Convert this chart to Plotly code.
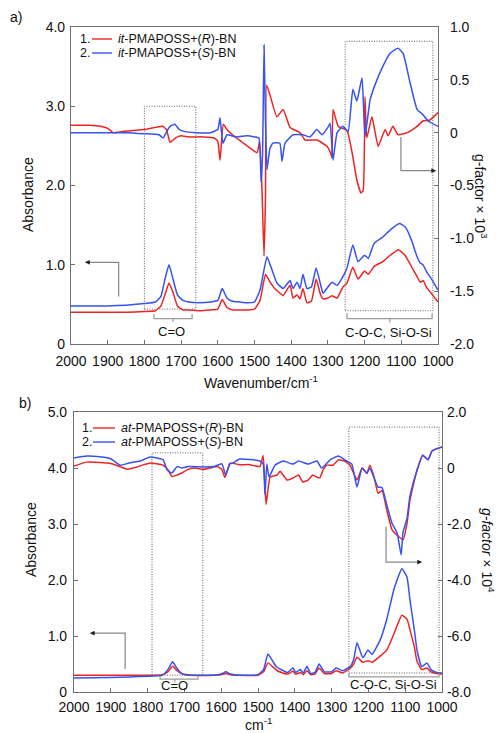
import plotly.graph_objects as go

W, H = 497, 733
FONT = "Liberation Sans, Arial, sans-serif"
RED = "#EE2424"
BLUE = "#3652F0"

# ---------------- panel a data ----------------
a_absR_wn = [2000, 1950, 1900, 1850, 1800, 1770, 1755, 1742, 1733, 1722, 1710, 1695, 1680, 1650, 1620, 1600, 1588, 1575, 1560, 1540, 1520, 1500, 1485, 1470, 1460, 1445, 1430, 1422, 1403, 1395, 1384, 1376, 1368, 1357, 1345, 1332, 1320, 1313, 1300, 1289, 1275, 1259, 1248, 1232, 1218, 1200, 1190, 1174, 1150, 1130, 1108, 1090, 1075, 1057, 1048, 1040, 1032, 1015, 1000]
a_absR = [0.40, 0.40, 0.40, 0.40, 0.41, 0.42, 0.48, 0.65, 0.77, 0.65, 0.48, 0.43, 0.43, 0.42, 0.43, 0.44, 0.56, 0.46, 0.43, 0.43, 0.43, 0.44, 0.55, 0.88, 0.80, 0.70, 0.64, 0.61, 0.74, 0.58, 0.62, 0.57, 0.70, 0.52, 0.54, 0.82, 0.62, 0.57, 0.58, 0.61, 0.58, 0.72, 0.77, 0.97, 0.82, 0.92, 0.88, 0.98, 1.04, 1.12, 1.19, 1.12, 1.00, 0.85, 0.78, 0.80, 0.72, 0.62, 0.53]

a_absS_wn = [2000, 1950, 1900, 1850, 1800, 1770, 1755, 1745, 1733, 1722, 1710, 1695, 1680, 1650, 1620, 1600, 1588, 1575, 1560, 1540, 1520, 1500, 1485, 1466, 1455, 1439, 1422, 1403, 1395, 1384, 1376, 1368, 1357, 1345, 1332, 1320, 1313, 1300, 1289, 1275, 1259, 1248, 1232, 1218, 1200, 1190, 1174, 1150, 1130, 1105, 1090, 1080, 1070, 1057, 1048, 1041, 1032, 1015, 1000]
a_absS = [0.48, 0.48, 0.48, 0.49, 0.51, 0.53, 0.60, 0.80, 1.00, 0.82, 0.62, 0.55, 0.53, 0.52, 0.53, 0.55, 0.70, 0.58, 0.54, 0.53, 0.52, 0.53, 0.68, 1.10, 0.97, 0.77, 0.70, 0.80, 0.70, 0.78, 0.70, 0.88, 0.70, 0.72, 0.96, 0.75, 0.64, 0.72, 0.78, 0.74, 0.85, 0.96, 1.25, 1.04, 1.12, 1.08, 1.27, 1.35, 1.44, 1.52, 1.48, 1.40, 1.28, 1.10, 1.02, 1.00, 0.92, 0.80, 0.68]

a_gR_wn = [2000, 1950, 1920, 1900, 1885, 1860, 1830, 1800, 1770, 1750, 1740, 1730, 1715, 1700, 1680, 1640, 1610, 1600, 1594, 1585, 1575, 1560, 1545, 1530, 1510, 1493, 1486, 1480, 1474, 1470, 1467, 1458, 1439, 1422, 1403, 1376, 1362, 1330, 1302, 1292, 1289, 1286, 1272, 1248, 1234, 1221, 1210, 1204, 1199, 1194, 1180, 1163, 1144, 1136, 1123, 1109, 1084, 1057, 1041, 1022, 1000]
a_gR = [0.07, 0.07, 0.06, 0.04, 0.00, 0.01, 0.02, 0.03, 0.05, 0.06, 0.03, -0.09, -0.05, -0.03, -0.04, -0.04, -0.05, -0.08, -0.26, 0.08, 0.03, -0.02, -0.06, -0.10, -0.15, -0.19, -0.08, -0.50, -1.17, -0.60, 0.45, 0.36, 0.15, 0.22, 0.05, 0.00, -0.07, -0.07, -0.13, -0.20, -0.24, 0.22, 0.06, 0.02, -0.19, -0.45, -0.57, -0.55, 0.34, -0.05, 0.15, -0.13, 0.03, -0.03, 0.06, -0.02, 0.00, 0.06, 0.11, 0.12, 0.19]

a_gS_wn = [2000, 1950, 1900, 1850, 1800, 1760, 1749, 1738, 1730, 1717, 1705, 1690, 1660, 1620, 1600, 1594, 1586, 1575, 1550, 1520, 1500, 1488, 1482, 1478, 1474, 1470, 1466, 1458, 1450, 1431, 1425, 1417, 1395, 1368, 1349, 1330, 1316, 1300, 1294, 1286, 1275, 1259, 1245, 1232, 1221, 1207, 1199, 1185, 1172, 1150, 1131, 1109, 1095, 1076, 1057, 1041, 1027, 1000]
a_gS = [0.00, 0.00, 0.00, 0.00, -0.01, -0.02, -0.05, 0.02, 0.06, 0.08, 0.03, 0.01, 0.00, 0.00, 0.03, 0.14, -0.10, -0.02, -0.04, -0.03, -0.04, -0.05, -0.47, -0.20, 0.83, 0.10, -0.35, -0.15, -0.10, -0.10, -0.27, -0.10, -0.02, -0.02, -0.04, 0.03, -0.02, 0.05, 0.09, -0.26, 0.00, 0.06, 0.01, 0.41, 0.30, 0.52, -0.04, 0.31, 0.45, 0.63, 0.75, 0.80, 0.75, 0.47, 0.22, 0.17, 0.11, 0.06]

# ---------------- panel b data ----------------
b_absR_wn = [2000, 1900, 1800, 1760, 1745, 1732, 1720, 1705, 1680, 1620, 1600, 1587, 1575, 1550, 1500, 1485, 1473, 1460, 1445, 1420, 1405, 1398, 1385, 1377, 1367, 1357, 1345, 1334, 1320, 1300, 1288, 1270, 1250, 1240, 1231, 1215, 1201, 1190, 1168, 1150, 1130, 1109, 1095, 1087, 1075, 1068, 1055, 1041, 1030, 1015, 1000]
b_absR = [0.30, 0.30, 0.30, 0.31, 0.36, 0.46, 0.38, 0.32, 0.30, 0.30, 0.31, 0.33, 0.31, 0.30, 0.30, 0.36, 0.52, 0.45, 0.37, 0.32, 0.37, 0.32, 0.35, 0.31, 0.38, 0.31, 0.32, 0.43, 0.33, 0.33, 0.38, 0.34, 0.42, 0.50, 0.62, 0.53, 0.56, 0.53, 0.64, 0.75, 1.05, 1.37, 1.30, 1.11, 0.80, 0.55, 0.40, 0.43, 0.36, 0.33, 0.32]

b_absS_wn = [2000, 1900, 1850, 1800, 1760, 1745, 1732, 1720, 1705, 1680, 1620, 1600, 1587, 1575, 1550, 1500, 1485, 1473, 1460, 1450, 1420, 1405, 1398, 1385, 1377, 1367, 1357, 1345, 1334, 1320, 1300, 1288, 1270, 1250, 1240, 1231, 1215, 1201, 1190, 1168, 1150, 1130, 1109, 1095, 1087, 1075, 1068, 1055, 1041, 1030, 1015, 1000]
b_absS = [0.25, 0.26, 0.27, 0.28, 0.30, 0.40, 0.54, 0.42, 0.32, 0.30, 0.30, 0.32, 0.36, 0.32, 0.30, 0.31, 0.40, 0.68, 0.55, 0.45, 0.35, 0.43, 0.35, 0.40, 0.34, 0.46, 0.33, 0.35, 0.50, 0.36, 0.36, 0.43, 0.38, 0.45, 0.58, 0.88, 0.61, 0.75, 0.67, 0.93, 1.30, 1.85, 2.20, 2.05, 1.64, 1.10, 0.75, 0.45, 0.52, 0.40, 0.35, 0.34]

b_gR_wn = [2000, 1965, 1930, 1900, 1875, 1856, 1830, 1810, 1793, 1758, 1745, 1734, 1720, 1707, 1690, 1670, 1650, 1630, 1611, 1598, 1590, 1576, 1550, 1522, 1495, 1486, 1478, 1467, 1448, 1440, 1421, 1405, 1390, 1378, 1364, 1351, 1340, 1332, 1323, 1313, 1296, 1282, 1265, 1250, 1231, 1217, 1204, 1196, 1185, 1174, 1163, 1150, 1136, 1122, 1106, 1095, 1087, 1068, 1052, 1038, 1027, 1000]
b_gR = [0.07, 0.21, 0.20, 0.16, 0.05, -0.04, 0.03, 0.12, 0.18, 0.10, -0.05, -0.30, -0.25, -0.18, -0.05, 0.00, -0.05, 0.00, 0.05, -0.05, -0.34, 0.17, 0.12, 0.12, 0.05, 0.45, -1.30, -0.32, -0.25, -0.12, -0.43, -0.36, -0.25, -0.50, -0.43, -0.25, -0.33, -0.35, -0.07, 0.10, 0.10, 0.29, 0.25, 0.10, -0.43, 0.00, -0.20, 0.10, -0.30, -0.90, -0.80, -1.50, -2.20, -2.40, -2.57, -1.97, -1.14, -0.07, 0.46, 0.29, 0.61, 0.75]

b_gS_wn = [2000, 1965, 1930, 1900, 1875, 1850, 1820, 1793, 1758, 1747, 1734, 1720, 1707, 1690, 1650, 1620, 1598, 1588, 1576, 1568, 1550, 1522, 1495, 1486, 1481, 1476, 1470, 1454, 1431, 1405, 1390, 1364, 1340, 1327, 1304, 1282, 1259, 1245, 1231, 1217, 1204, 1196, 1174, 1163, 1150, 1136, 1122, 1111, 1106, 1095, 1087, 1068, 1052, 1038, 1027, 1000]
b_gS = [0.36, 0.43, 0.40, 0.33, 0.10, 0.18, 0.25, 0.39, 0.30, -0.07, -0.18, 0.05, 0.00, 0.05, 0.04, 0.05, 0.15, -0.25, 0.15, 0.18, 0.32, 0.30, 0.25, 0.15, -0.96, 0.14, -0.32, 0.10, 0.25, 0.14, 0.25, 0.14, 0.25, 0.00, 0.29, 0.43, 0.25, 0.14, -0.68, 0.00, -0.18, 0.00, -0.68, -0.70, -1.32, -1.97, -2.32, -3.10, -2.30, -1.80, -1.00, -0.10, 0.46, 0.29, 0.61, 0.75]

x_ticks = [2000, 1900, 1800, 1700, 1600, 1500, 1400, 1300, 1200, 1100, 1000]
a_left_ticks = [0, 1, 2, 3, 4]
a_left_text = ["0", "1.0", "2.0", "3.0", "4.0"]
a_right_ticks = [-2, -1.5, -1, -0.5, 0, 0.5, 1]
a_right_text = ["-2.0", "-1.5", "-1.0", "-0.5", "0", "0.5", "1.0"]
b_left_ticks = [0, 1, 2, 3, 4, 5]
b_left_text = ["0", "1.0", "2.0", "3.0", "4.0", "5.0"]
b_right_ticks = [-8, -6, -4, -2, 0, 2]
b_right_text = ["-8.0", "-6.0", "-4.0", "-2.0", "0", "2.0"]

legend_a = ["<i>it</i>-PMAPOSS+(<i>R</i>)-BN", "<i>it</i>-PMAPOSS+(<i>S</i>)-BN"]
legend_b = ["<i>at</i>-PMAPOSS+(<i>R</i>)-BN", "<i>at</i>-PMAPOSS+(<i>S</i>)-BN"]


def px(x):
    return x / W


def py(y):
    return 1 - y / H


fig = go.Figure()
LW = 1.5
SH = dict(shape="spline", smoothing=0.4)

fig.add_trace(go.Scatter(x=a_absR_wn, y=a_absR, mode="lines", line=dict(color=RED, width=LW, **SH), xaxis="x", yaxis="y"))
fig.add_trace(go.Scatter(x=a_absS_wn, y=a_absS, mode="lines", line=dict(color=BLUE, width=LW, **SH), xaxis="x", yaxis="y"))
fig.add_trace(go.Scatter(x=a_gR_wn, y=a_gR, mode="lines", line=dict(color=RED, width=LW, **SH), xaxis="x", yaxis="y2"))
fig.add_trace(go.Scatter(x=a_gS_wn, y=a_gS, mode="lines", line=dict(color=BLUE, width=LW, **SH), xaxis="x", yaxis="y2"))
fig.add_trace(go.Scatter(x=b_absR_wn, y=b_absR, mode="lines", line=dict(color=RED, width=LW, **SH), xaxis="x2", yaxis="y3"))
fig.add_trace(go.Scatter(x=b_absS_wn, y=b_absS, mode="lines", line=dict(color=BLUE, width=LW, **SH), xaxis="x2", yaxis="y3"))
fig.add_trace(go.Scatter(x=b_gR_wn, y=b_gR, mode="lines", line=dict(color=RED, width=LW, **SH), xaxis="x2", yaxis="y4"))
fig.add_trace(go.Scatter(x=b_gS_wn, y=b_gS, mode="lines", line=dict(color=BLUE, width=LW, **SH), xaxis="x2", yaxis="y4"))

AX = "#707070"
common = dict(showline=True, linecolor=AX, linewidth=1.2, ticks="inside", ticklen=4, tickcolor=AX,
              showgrid=False, zeroline=False, automargin=False,
              tickfont=dict(family=FONT, size=14, color="#111"))

fig.update_layout(
    template="none",
    width=W, height=H, autosize=False, margin=dict(l=0, r=0, t=0, b=0, pad=0),
    paper_bgcolor="white", plot_bgcolor="white", showlegend=False,
    xaxis=dict(domain=[px(71), px(438)], range=[2000, 1000], tickvals=x_ticks, anchor="y", mirror=True,
               ticklabelstandoff=4, **common),
    yaxis=dict(domain=[py(344), py(27)], range=[0, 4], tickvals=a_left_ticks, ticktext=a_left_text,
               anchor="x", mirror=False, ticklabelstandoff=2, **common),
    yaxis2=dict(range=[-2, 1], tickvals=a_right_ticks, ticktext=a_right_text, overlaying="y", side="right",
                anchor="x", ticklabelstandoff=8, **common),
    xaxis2=dict(domain=[px(74), px(442)], range=[2000, 1000], tickvals=x_ticks, anchor="y3", mirror=True,
                ticklabelstandoff=2, **common),
    yaxis3=dict(domain=[py(692), py(412)], range=[0, 5], tickvals=b_left_ticks, ticktext=b_left_text,
                anchor="x2", ticklabelstandoff=3, **common),
    yaxis4=dict(range=[-8, 2], tickvals=b_right_ticks, ticktext=b_right_text, overlaying="y3", side="right",
                anchor="x2", ticklabelstandoff=1, **common),
)

shapes = []
DOT = dict(color="#606060", width=1, dash="1px,1.5px")
BR = dict(color="#9a9a9a", width=1.2)
GR = dict(color="#888888", width=1.2)
# dotted boxes
shapes.append(dict(type="rect", xref="x", yref="y", x0=1800, x1=1660, y0=0.44, y1=3.0, line=DOT))
shapes.append(dict(type="rect", xref="x", yref="y", x0=1253, x1=1014, y0=0.42, y1=3.82, line=DOT))
shapes.append(dict(type="rect", xref="x2", yref="y3", x0=1788, x1=1650, y0=0.30, y1=4.27, line=DOT))
shapes.append(dict(type="rect", xref="x2", yref="y3", x0=1253, x1=1008, y0=0.34, y1=4.73, line=DOT))
# brackets
shapes.append(dict(type="path", xref="x", yref="y", path="M 1774,0.38 L 1774,0.32 L 1670,0.32 L 1670,0.38 M 1722,0.32 L 1722,0.28", line=BR))
shapes.append(dict(type="path", xref="x", yref="y", path="M 1248,0.39 L 1248,0.32 L 1016,0.32 L 1016,0.39 M 1131,0.32 L 1131,0.27", line=BR))
shapes.append(dict(type="path", xref="x2", yref="y3", path="M 1766,0.29 L 1766,0.23 L 1663,0.23 L 1663,0.29 M 1726,0.23 L 1726,0.17", line=BR))
shapes.append(dict(type="path", xref="x2", yref="y3", path="M 1253,0.34 L 1253,0.27 L 1008,0.27 L 1008,0.34", line=BR))
# arrow stems (vertical + horizontal, gray)
shapes.append(dict(type="path", xref="x", yref="y", path="M 1870,0.60 L 1870,1.03 L 1955,1.03", line=GR))
shapes.append(dict(type="path", xref="x", yref="y2", path="M 1101,-0.04 L 1101,-0.36 L 1012,-0.36", line=GR))
shapes.append(dict(type="path", xref="x2", yref="y3", path="M 1861,0.41 L 1861,1.05 L 1950,1.05", line=GR))
shapes.append(dict(type="path", xref="x2", yref="y4", path="M 1152,-2.1 L 1152,-3.36 L 1061,-3.36", line=GR))

# legend lines
for (yy, col) in [(39, RED), (53, BLUE)]:
    shapes.append(dict(type="line", xref="paper", yref="paper", x0=px(92), x1=px(112), y0=py(yy), y1=py(yy), line=dict(color=col, width=1.4)))
for (yy, col) in [(428, RED), (442, BLUE)]:
    shapes.append(dict(type="line", xref="paper", yref="paper", x0=px(93), x1=px(115), y0=py(yy), y1=py(yy), line=dict(color=col, width=1.4)))
fig.update_layout(shapes=shapes)

ann = []
TF = dict(family=FONT, size=14, color="#111")
LF = dict(family=FONT, size=12.5, color="#111")


def text(x, y, t, font=TF, xanchor="center", yanchor="middle", angle=0):
    ann.append(dict(x=px(x), y=py(y), xref="paper", yref="paper", text=t, showarrow=False, font=font,
                    xanchor=xanchor, yanchor=yanchor, textangle=angle))


text(16, 17, "a)")
text(25, 403, "b)")
text(261, 382, "Wavenumber/cm<sup>-1</sup>")
text(258, 724, "cm<sup>-1</sup>")
text(28, 195, "Absorbance", angle=-90)
text(31, 540, "Absorbance", angle=-90)
text(481, 196, "g-factor × 10<sup>3</sup>", angle=90)
text(488, 550, "<i>g-factor</i> × 10<sup>4</sup>", angle=90)
# legends
text(78, 39, "1.", LF, xanchor="left")
text(78, 53, "2.", LF, xanchor="left")
text(116, 39, legend_a[0], LF, xanchor="left")
text(116, 53, legend_a[1], LF, xanchor="left")
text(80, 428, "1.", LF, xanchor="left")
text(80, 442, "2.", LF, xanchor="left")
text(119, 428, legend_b[0], LF, xanchor="left")
text(119, 442, legend_b[1], LF, xanchor="left")

# band labels
BF = dict(family=FONT, size=13, color="#111")
ann.append(dict(x=1725, y=0.16, xref="x", yref="y", text="C=O", showarrow=False, font=BF))
ann.append(dict(x=1136, y=0.15, xref="x", yref="y", text="C-O-C, Si-O-Si", showarrow=False, font=BF))
ann.append(dict(x=1726, y=0.11, xref="x2", yref="y3", text="C=O", showarrow=False, font=BF))
ann.append(dict(x=1133, y=0.14, xref="x2", yref="y3", text="C-O-C, Si-O-Si", showarrow=False, font=BF))

# small dark arrow heads
AR = dict(showarrow=True, text="", arrowhead=2, arrowsize=0.8, arrowwidth=1.2, arrowcolor="#222222", standoff=0)
ann.append(dict(x=1962, y=1.03, ax=1945, ay=1.03, xref="x", yref="y", axref="x", ayref="y", **AR))
ann.append(dict(x=1005, y=-0.36, ax=1022, ay=-0.36, xref="x", yref="y2", axref="x", ayref="y2", **AR))
ann.append(dict(x=1957, y=1.05, ax=1940, ay=1.05, xref="x2", yref="y3", axref="x2", ayref="y3", **AR))
ann.append(dict(x=1054, y=-3.36, ax=1071, ay=-3.36, xref="x2", yref="y4", axref="x2", ayref="y4", **AR))
fig.update_layout(annotations=ann)

fig.write_html("out.html", config={"displayModeBar": False},
               post_script="document.body.style.margin='0px';document.body.style.overflow='hidden';")
